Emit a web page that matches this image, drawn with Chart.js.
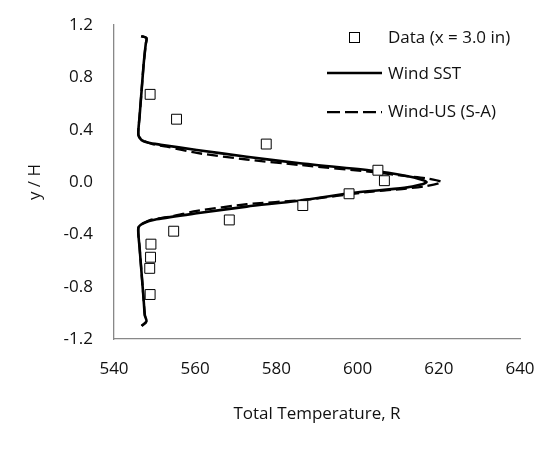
<!DOCTYPE html>
<html>
<head>
<meta charset="utf-8">
<script src="https://cdn.jsdelivr.net/npm/chart.js@4.4.1/dist/chart.umd.min.js"></script>
<style>
  html, body { margin: 0; padding: 0; background: #fff; }
  #wrap { position: relative; width: 555px; height: 452px; }
</style>
</head>
<body>
<div id="wrap"><canvas id="c" width="555" height="452"></canvas></div>
<script>
// ---- data ----
const dataT = [548.9, 555.4, 577.5, 605.0, 606.6, 597.9, 586.5, 568.4, 554.7, 549.1, 549.0, 548.8, 548.9];
const dataY = [0.67, 0.48, 0.29, 0.09, 0.01, -0.09, -0.18, -0.29, -0.376, -0.475, -0.575, -0.66, -0.86];

const sstT = [546.7, 548.0, 547.8, 547.3, 546.8, 546.3, 546.0, 546.8, 548.5, 551.5, 560.4, 572.7, 585.8, 603.9, 612.1, 615.6, 617.0, 615.6, 611.5, 598.1, 585.0, 572.7, 560.4, 550.5, 547.2, 546.0, 546.3, 546.8, 547.3, 547.6, 548.0, 546.8];
const sstY = [1.115, 1.10, 1.05, 0.90, 0.70, 0.50, 0.36, 0.32, 0.30, 0.285, 0.245, 0.193, 0.143, 0.086, 0.046, 0.02, 0.0, -0.02, -0.045, -0.086, -0.145, -0.188, -0.239, -0.285, -0.315, -0.35, -0.50, -0.70, -0.90, -1.02, -1.065, -1.10];

const usT = [546.7, 548.0, 547.8, 547.3, 546.8, 546.3, 546.0, 547.0, 549.5, 553.0, 560.4, 572.7, 585.8, 603.9, 612.0, 617.0, 620.7, 617.0, 612.0, 603.0, 586.7, 572.7, 560.4, 554.6, 549.0, 547.0, 546.0, 546.3, 546.8, 547.3, 547.6, 548.0, 546.8];
const usY = [1.115, 1.10, 1.05, 0.90, 0.70, 0.50, 0.36, 0.32, 0.29, 0.27, 0.222, 0.172, 0.13, 0.075, 0.045, 0.028, 0.0, -0.03, -0.05, -0.075, -0.137, -0.170, -0.221, -0.26, -0.29, -0.32, -0.35, -0.50, -0.70, -0.90, -1.02, -1.065, -1.10];

const xTicks = [540, 560, 580, 600, 620, 640];
const yTicks = [-1.2, -0.8, -0.4, 0.0, 0.4, 0.8, 1.2];

const seriesLabels = ['Data (x = 3.0 in)', 'Wind SST', 'Wind-US (S-A)'];
const xTitle = 'Total Temperature, R';
const yTitle = 'y / H';

const zip = (xs, ys) => xs.map((x, i) => ({ x: x, y: ys[i] }));

const FONT = '"Open Sans", "Noto Sans", sans-serif';
const FS = 17;

const legendPlugin = {
  id: 'floatLegend',
  afterDraw(chart) {
    const ctx = chart.ctx;
    const ds = chart.data.datasets;
    ctx.save();
    ctx.font = FS + 'px ' + FONT;
    ctx.textBaseline = 'middle';
    ctx.textAlign = 'left';
    const tx = 388;
    // marker
    ctx.lineWidth = 1;
    ctx.strokeStyle = '#000';
    ctx.fillStyle = '#fff';
    ctx.fillRect(349.5, 32.5, 10, 10);
    ctx.strokeRect(349.5, 32.5, 10, 10);
    ctx.fillStyle = '#111';
    ctx.fillText(ds[0].label, tx, 38);
    // solid
    ctx.lineWidth = 2.5;
    ctx.setLineDash([]);
    ctx.beginPath(); ctx.moveTo(327, 73); ctx.lineTo(382, 73); ctx.stroke();
    ctx.fillText(ds[1].label, tx, 74);
    // dashed
    ctx.lineWidth = 2.25;
    ctx.setLineDash([13, 5]);
    ctx.beginPath(); ctx.moveTo(327, 112); ctx.lineTo(382, 112); ctx.stroke();
    ctx.setLineDash([]);
    ctx.fillText(ds[2].label, tx, 112);
    ctx.restore();
  }
};

new Chart(document.getElementById('c'), {
  type: 'scatter',
  data: {
    datasets: [
      {
        label: seriesLabels[0],
        data: zip(dataT, dataY),
        pointStyle: 'rect',
        pointRadius: 7,
        pointBorderWidth: 1,
        pointBackgroundColor: '#fff',
        pointBorderColor: '#000',
        showLine: false
      },
      {
        label: seriesLabels[1],
        data: zip(sstT, sstY),
        showLine: true,
        borderColor: '#000',
        borderWidth: 2.6,
        pointRadius: 0,
        tension: 0.25,
        fill: false
      },
      {
        label: seriesLabels[2],
        data: zip(usT, usY),
        showLine: true,
        borderColor: '#000',
        borderWidth: 2.3,
        borderDash: [11, 5],
        pointRadius: 0,
        tension: 0.25,
        fill: false
      }
    ]
  },
  options: {
    responsive: false,
    animation: false,
    devicePixelRatio: 1,
    layout: { padding: { left: 0, right: 35, top: 25, bottom: 0 } },
    plugins: { legend: { display: false }, tooltip: { enabled: false } },
    scales: {
      x: {
        type: 'linear',
        min: xTicks[0],
        max: xTicks[xTicks.length - 1],
        afterBuildTicks: (s) => { s.ticks = xTicks.map(v => ({ value: v })); },
        afterFit: (s) => { s.height = 113; },
        grid: { display: false, drawTicks: false },
        border: { display: true, color: '#888', width: 1.3 },
        ticks: { padding: 20, color: '#111', font: { family: FONT, size: FS }, maxRotation: 0, callback: v => String(v) },
        title: { display: true, text: xTitle, color: '#111', font: { family: FONT, size: FS }, padding: { top: 0, bottom: 28 } }
      },
      y: {
        type: 'linear',
        min: yTicks[0],
        max: yTicks[yTicks.length - 1],
        afterBuildTicks: (s) => { s.ticks = yTicks.map(v => ({ value: v })); },
        afterFit: (s) => { s.width = 114; },
        grid: { display: true, drawOnChartArea: false, drawTicks: true, tickLength: 21, color: 'rgba(0,0,0,0)' },
        border: { display: true, color: '#888', width: 1.3 },
        ticks: { padding: 0, color: '#111', font: { family: FONT, size: FS }, callback: v => Number(v).toFixed(1) },
        title: { display: true, text: yTitle, color: '#111', font: { family: FONT, size: FS }, padding: { top: 25, bottom: 0 } }
      }
    }
  },
  plugins: [legendPlugin]
});
</script>
</body>
</html>
